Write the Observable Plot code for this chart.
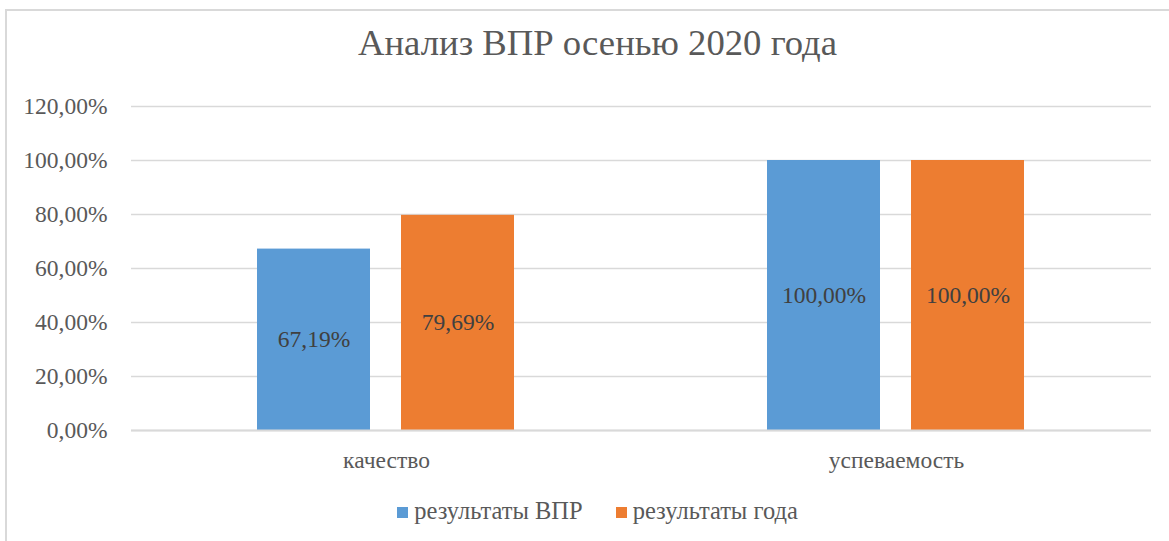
<!DOCTYPE html>
<html>
<head>
<meta charset="utf-8">
<script src="https://cdn.jsdelivr.net/npm/d3@7"></script>
<script src="https://cdn.jsdelivr.net/npm/@observablehq/plot@0.6"></script>
<style>
  html, body { margin: 0; padding: 0; background: #fff; overflow: hidden; }
  #wrap { position: relative; width: 1169px; height: 541px; font-family: "Liberation Serif", "Times New Roman", serif; }
  #frame { position: absolute; left: 5px; top: 9px; width: 1200px; height: 600px; border: 2px solid #d9d9d9; box-sizing: border-box; }
  #title { position: absolute; left: 26px; width: 1143px; top: 23px; line-height: 40px; font-size: 36.7px; color: #595959; text-align: center; white-space: nowrap; }
  #chart { position: absolute; left: 0; top: 80px; }
  #legend { position: absolute; left: 26px; width: 1143px; top: 497px; line-height: 28px; font-size: 24.5px; color: #595959; display: flex; justify-content: center; white-space: nowrap; }
  .item { display: flex; align-items: center; }
  .item + .item { margin-left: 33px; }
  .sw { width: 11px; height: 11px; margin-right: 6px; margin-top: 2px; }
</style>
</head>
<body>
<div id="wrap">
  <div id="frame"></div>
  <div id="title"></div>
  <div id="chart"></div>
  <div id="legend"></div>
</div>
<script>
const titleText = "Анализ ВПР осенью 2020 года";
const categories = ["качество", "успеваемость"];
const seriesNames = ["результаты ВПР", "результаты года"];
const seriesColors = ["#5B9BD5", "#ED7D31"];
const valuesVPR = [67.19, 100];
const valuesYear = [79.69, 100];
const yTicks = [0, 20, 40, 60, 80, 100, 120];

const fmt = v => d3.format(".2f")(v).replace(".", ",") + "%";

const data = [];
categories.forEach((c, i) => {
  data.push({cat: c, series: seriesNames[0], value: valuesVPR[i]});
  data.push({cat: c, series: seriesNames[1], value: valuesYear[i]});
});

document.getElementById("title").textContent = titleText;

const plot = Plot.plot({
  width: 1169,
  height: 400,
  marginLeft: 130,
  marginRight: 18,
  marginTop: 26,
  marginBottom: 50,
  style: { fontFamily: "'Liberation Serif', 'Times New Roman', serif", fontSize: "23.5px", color: "#595959", background: "transparent" },
  fx: { domain: categories, padding: 0, label: null, axis: "bottom", tickSize: 0, tickPadding: 21 },
  x: { domain: seriesNames, paddingInner: 0.214, paddingOuter: 0.866, axis: null },
  y: { domain: [0, 120], ticks: yTicks, tickFormat: fmt, label: null, tickSize: 0, tickPadding: 24 },
  color: { domain: seriesNames, range: seriesColors },
  marks: [
    Plot.gridY(yTicks, { stroke: "#d9d9d9", strokeOpacity: 1, strokeWidth: 1.5 }),
    Plot.barY(data, { fx: "cat", x: "series", y: "value", fill: "series" }),
    Plot.text(data, { fx: "cat", x: "series", y: d => d.value / 2, text: d => fmt(d.value), fill: "#404040", fontSize: 23.5 }),
    Plot.ruleY([0], { stroke: "#d9d9d9", strokeWidth: 2 })
  ]
});
document.getElementById("chart").appendChild(plot);

const legend = document.getElementById("legend");
seriesNames.forEach((s, i) => {
  const it = document.createElement("div");
  it.className = "item";
  const sw = document.createElement("div");
  sw.className = "sw";
  sw.style.background = seriesColors[i];
  const t = document.createElement("span");
  t.textContent = s;
  it.appendChild(sw);
  it.appendChild(t);
  legend.appendChild(it);
});
</script>
</body>
</html>
